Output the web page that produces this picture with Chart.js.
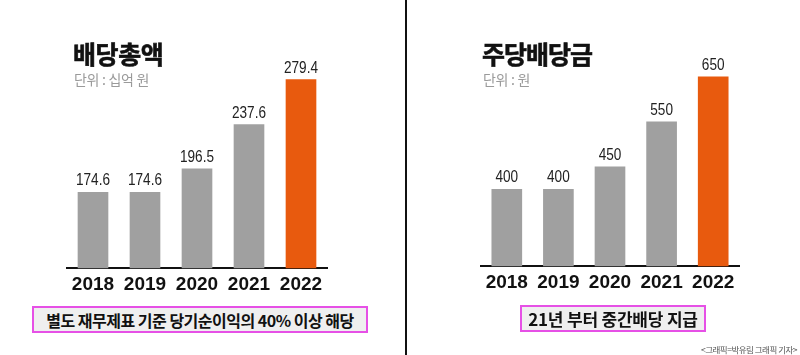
<!DOCTYPE html>
<html><head><meta charset="utf-8">
<script src="https://cdn.jsdelivr.net/npm/chart.js@4/dist/chart.umd.min.js"></script>
<style>
html,body{margin:0;padding:0;background:#fff;}
#wrap{position:relative;width:800px;height:355px;overflow:hidden;background:#fff;font-family:"Noto Sans CJK KR",sans-serif;}
canvas{position:absolute;top:0;}
.t{position:absolute;font-weight:700;font-size:25px;color:#111;line-height:1;-webkit-text-stroke:0.6px #111;}
.s{position:absolute;font-size:14px;color:#9a9a9a;letter-spacing:-0.3px;line-height:1;}
.box{position:absolute;box-sizing:border-box;border:2px solid #e650e6;background:#efefef;font-weight:700;color:#111;display:flex;align-items:center;justify-content:center;line-height:1;}
#sep{position:absolute;left:405px;top:0;width:2px;height:355px;background:#111;}
#credit{position:absolute;right:3px;bottom:2px;font-size:8.5px;color:#555;letter-spacing:-0.5px;line-height:1;}
</style></head><body>
<div id="wrap">
<canvas id="c1" width="400" height="355" style="left:0"></canvas>
<canvas id="c2" width="400" height="355" style="left:400px"></canvas>
<div id="sep"></div>
<div class="t" id="t1" style="left:73px;top:41px;letter-spacing:-0.4px;">배당총액</div>
<div class="s" id="s1" style="left:74px;top:72px;">단위 : 십억 원</div>
<div class="t" id="t2" style="left:482px;top:41px;letter-spacing:-1px;">주당배당금</div>
<div class="s" id="s2" style="left:483px;top:72px;">단위 : 원</div>
<div class="box" id="b1" style="left:32px;top:306px;width:336px;height:27px;font-size:16px;letter-spacing:-0.5px;">별도 재무제표 기준 당기순이익의 40% 이상 해당</div>
<div class="box" id="b2" style="left:520px;top:305px;width:186px;height:27px;font-size:17px;letter-spacing:-0.2px;">21년 부터 중간배당 지급</div>
<div id="credit">&lt;그래픽=박유림 그래픽 기자&gt;</div>
</div>
<script>
const years = ['2018','2019','2020','2021','2022'];
const totalDividend = [174.6, 174.6, 196.5, 237.6, 279.4];
const totalLabels = ['174.6','174.6','196.5','237.6','279.4'];
const perShareDividend = [400, 400, 450, 550, 650];
const perShareLabels = ['400','400','450','550','650'];

const GRAY = '#a0a0a0', ORANGE = '#e85a0e';

const valueLabels = {
  id: 'valueLabels',
  afterDatasetsDraw(chart, args, opts) {
    const ctx = chart.ctx;
    const meta = chart.getDatasetMeta(0);
    meta.data.forEach((bar, i) => {
      ctx.save();
      ctx.font = '17px "Liberation Sans", sans-serif';
      ctx.fillStyle = '#222';
      ctx.textAlign = 'center';
      ctx.textBaseline = 'bottom';
      ctx.translate(bar.x, bar.y - 3);
      ctx.scale(0.8, 1);
      ctx.fillText(opts.labels[i], 0, 0);
      ctx.restore();
    });
  }
};

function makeChart(id, values, labels, yMin, yMax, pad) {
  const colors = values.map((v, i) => i === values.length - 1 ? ORANGE : GRAY);
  return new Chart(document.getElementById(id), {
    type: 'bar',
    data: { labels: years, datasets: [{ data: values, backgroundColor: colors, barThickness: 30, borderWidth: 0 }] },
    options: {
      responsive: false, animation: false,
      layout: { padding: pad },
      plugins: { legend: { display: false }, tooltip: { enabled: false }, valueLabels: { labels: labels } },
      scales: {
        y: { display: false, min: yMin, max: yMax },
        x: {
          grid: { display: false, drawTicks: false },
          border: { display: true, color: '#111', width: 2 },
          ticks: { color: '#111', padding: 5, font: { family: '"Liberation Sans", sans-serif', size: 19, weight: 'bold' } }
        }
      }
    },
    plugins: [valueLabels]
  });
}

makeChart('c1', totalDividend, totalLabels, 104, 288.3, { left: 67, right: 73, top: 70, bottom: 54 });
makeChart('c2', perShareDividend, perShareLabels, 229, 665, { left: 81, right: 61, top: 70, bottom: 56 });
</script>
</body></html>
